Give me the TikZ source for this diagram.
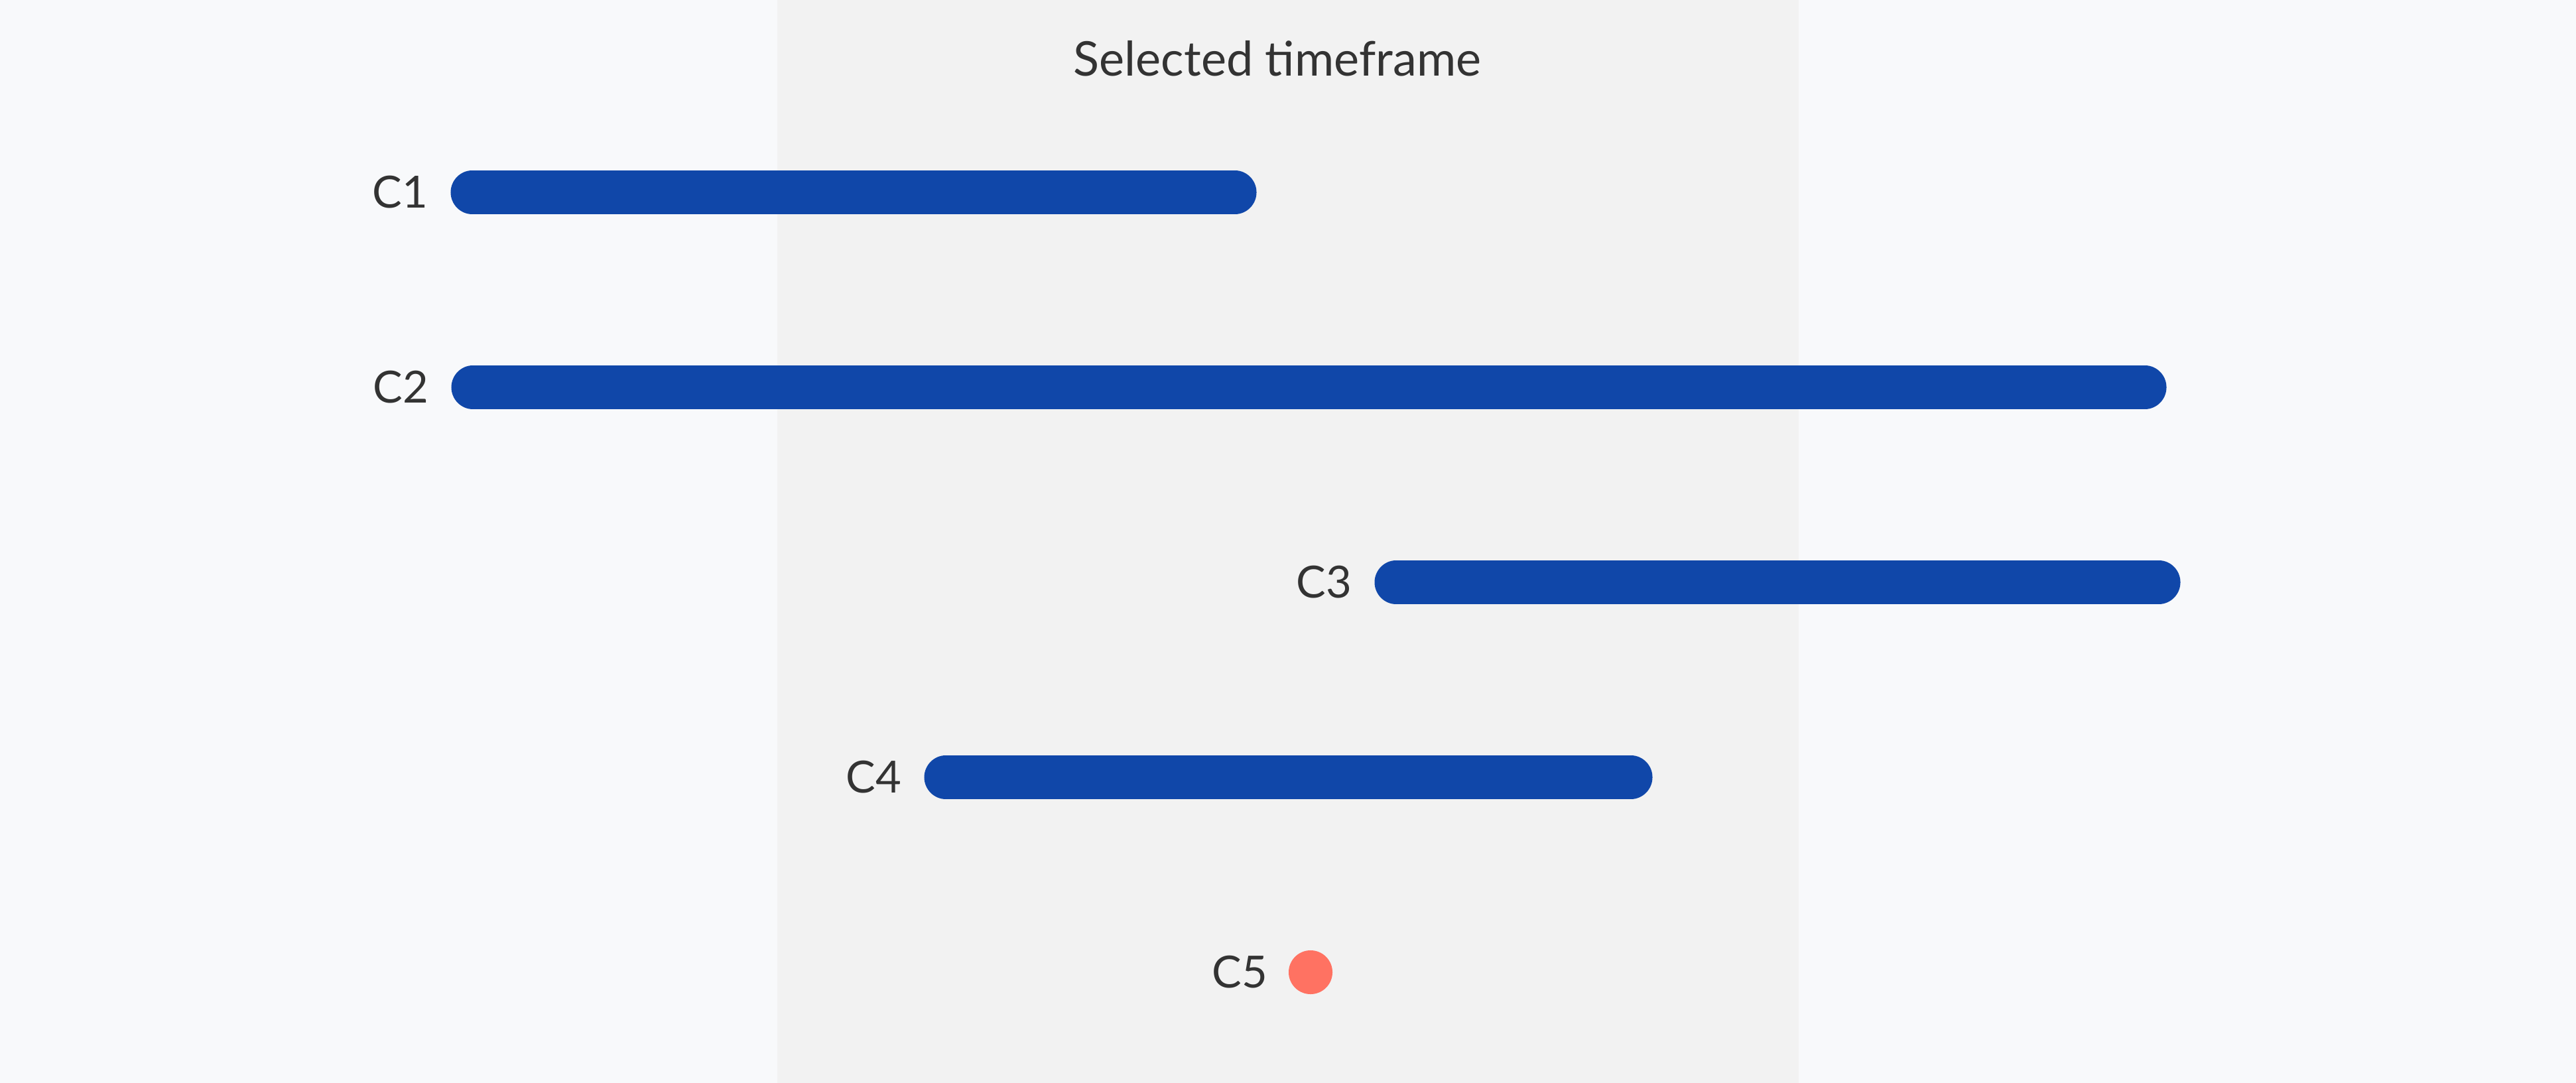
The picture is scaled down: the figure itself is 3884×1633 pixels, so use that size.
\documentclass[tikz,border=0pt]{standalone}
\usepackage{fontspec}
\setmainfont{Lato}
\definecolor{pagebg}{HTML}{F8F9FB}
\definecolor{framebg}{HTML}{F2F2F2}
\definecolor{barblue}{HTML}{1047A9}
\definecolor{dotred}{HTML}{FF7262}
\definecolor{labelgray}{HTML}{333333}
\begin{document}
\begin{tikzpicture}
            [x=0.01cm, y=-0.01cm,
            every node/.style={font=\fontsize{19}{23}\selectfont, text=labelgray, inner sep=0pt},
            bar/.style={draw=barblue, line width=0.65cm, line cap=round},
            lbl/.style={anchor=east, xshift=-0.66cm}]
            % page and selected window
            \fill [pagebg] (0,0) rectangle (3884,1633);
            \fill [framebg] (1172,0) rectangle (2712,1633);
            \node [font=\fontsize{20.5}{24}\selectfont] (title) at (1926,88) {Selected timeframe};
            % bar ends
            \coordinate (c1s) at (712,290);  \coordinate (c1e) at (1862,290);
            \coordinate (c2s) at (713,584);  \coordinate (c2e) at (3234,584);
            \coordinate (c3s) at (2105,878); \coordinate (c3e) at (3255,878);
            \coordinate (c4s) at (1426,1172); \coordinate (c4e) at (2459,1172);
            \coordinate (c5) at (1976,1466);
            \draw [bar] (c1s) -- (c1e);
            \draw [bar] (c2s) -- (c2e);
            \draw [bar] (c3s) -- (c3e);
            \draw [bar] (c4s) -- (c4e);
            \fill [dotred] (c5) circle [radius=0.33cm];
            \node [lbl] (lab1) at (c1s) {C1};
            \node [lbl] (lab2) at (c2s) {C2};
            \node [lbl] (lab3) at (c3s) {C3};
            \node [lbl] (lab4) at (c4s) {C4};
            \node [anchor=east, xshift=-0.64cm] (lab5) at (c5) {C5};
            \end{tikzpicture}
\end{document}
